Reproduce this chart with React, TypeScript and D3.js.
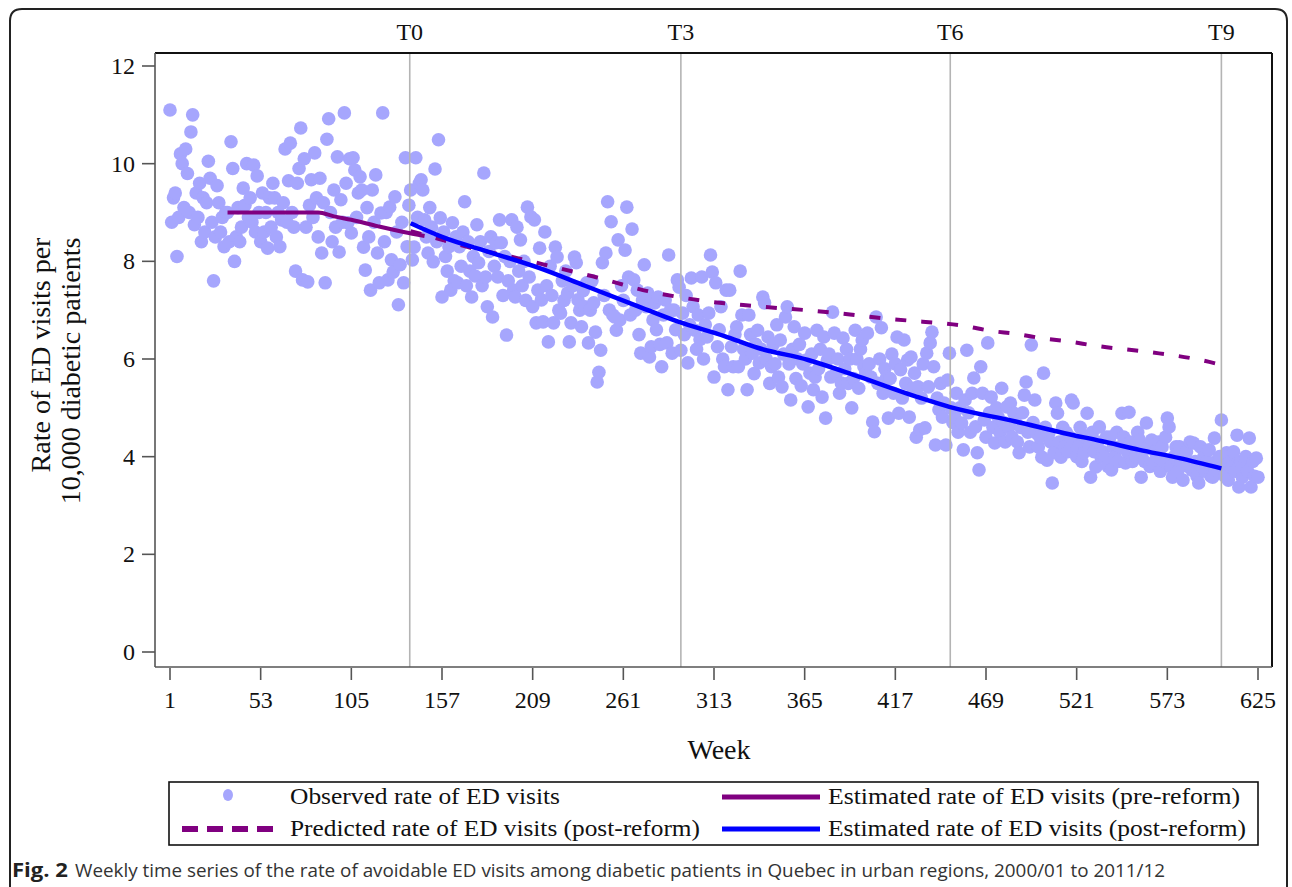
import React from "react";
import * as d3 from "d3";

// Observed weekly rate (week = index + 1)
const observed: number[] = [
  11.1, 8.8, 9.3, 9.4, 8.1, 8.9, 10.2, 10.0, 9.1, 10.3, 9.8, 9.0, 10.65, 11.0, 8.75, 9.4, 8.9, 9.6, 8.4, 9.3, 8.6, 9.2, 10.05, 9.7, 8.8, 7.6,
  8.5, 9.55, 9.2, 8.6, 8.9, 8.3, 9.0, 9.0, 8.4, 10.45, 9.9, 8.0, 8.5, 9.1, 8.4, 8.7, 9.5, 9.15, 10.0, 8.9, 9.3, 8.8, 9.97, 8.6, 9.75, 9.0,
  8.4, 9.4, 8.6, 9.0, 8.27, 9.3, 8.7, 9.6, 9.3, 8.5, 9.0, 8.3, 8.85, 9.2, 10.3, 8.8, 9.65, 10.42, 9.0, 8.7, 7.8, 9.6, 9.9, 10.73, 7.62, 10.1,
  8.7, 7.58, 9.15, 9.67, 8.9, 10.22, 9.3, 8.5, 9.7, 8.17, 9.2, 7.56, 10.5, 10.92, 9.0, 8.4, 9.46, 8.7, 10.14, 8.19, 9.26, 8.8, 11.04, 9.6, 8.79, 10.1,
  8.58, 10.12, 9.87, 8.9, 9.4, 9.73, 9.46, 8.29, 7.82, 9.1, 8.5, 7.41, 9.46, 8.8, 9.77, 8.17, 7.56, 8.99, 11.04, 8.4, 9.0, 7.62, 9.11, 8.03, 7.78, 9.32,
  8.6, 7.11, 7.93, 8.8, 7.56, 10.12, 8.3, 9.15, 9.46, 8.03, 8.29, 10.12, 8.9, 9.6, 9.67, 9.46, 8.85, 8.5, 8.17, 9.1, 8.7, 7.99, 9.89, 8.4, 10.49, 8.89,
  7.27, 8.6, 8.1, 7.8, 8.3, 7.41, 8.79, 7.6, 8.5, 7.56, 8.3, 7.9, 8.6, 9.22, 7.5, 8.4, 7.8, 7.27, 8.1, 7.7, 8.75, 7.97, 8.4, 7.5, 9.81, 7.68,
  7.07, 8.2, 8.5, 6.86, 7.9, 8.38, 7.68, 8.85, 8.38, 7.3, 8.1, 6.49, 7.6, 8.0, 8.85, 7.41, 7.27, 8.7, 7.8, 8.44, 7.5, 8.0, 7.2, 9.11, 7.68, 8.91,
  7.07, 8.85, 6.74, 7.41, 8.27, 7.21, 6.76, 8.6, 7.5, 6.35, 7.9, 7.3, 6.74, 8.29, 8.09, 7.0, 6.94, 7.6, 7.2, 7.8, 7.35, 6.35, 6.74, 7.5, 8.09, 7.97,
  7.21, 7.0, 6.66, 7.4, 7.07, 7.56, 6.33, 7.0, 7.6, 7.15, 6.55, 5.53, 5.73, 6.18, 7.97, 7.3, 8.17, 9.22, 7.0, 8.81, 6.9, 6.86, 6.59, 8.44, 6.8, 7.5,
  7.2, 8.23, 9.11, 7.68, 6.9, 8.66, 7.62, 7.0, 7.41, 6.5, 6.12, 7.2, 7.93, 7.07, 7.35, 6.04, 6.25, 6.8, 7.15, 6.6, 7.27, 6.3, 5.84, 6.9, 7.21, 6.33,
  8.13, 7.0, 6.12, 7.0, 6.6, 7.62, 7.47, 6.18, 6.94, 6.5, 7.3, 5.92, 6.7, 7.66, 7.07, 6.59, 6.2, 6.9, 6.4, 7.68, 6.0, 6.7, 6.45, 6.94, 8.13, 7.78,
  5.63, 7.56, 6.25, 6.6, 7.07, 6.0, 5.84, 7.41, 5.37, 7.41, 6.25, 5.84, 6.5, 6.66, 5.84, 7.8, 6.9, 6.2, 6.0, 5.37, 6.9, 6.5, 6.12, 5.7, 6.3, 6.59,
  5.92, 6.2, 7.27, 7.15, 6.0, 6.45, 5.5, 5.84, 6.3, 5.9, 6.7, 5.63, 6.39, 5.43, 6.1, 6.86, 7.07, 5.9, 5.16, 6.2, 6.66, 5.6, 6.0, 6.3, 5.45, 5.9,
  6.53, 5.98, 5.02, 5.71, 6.1, 5.37, 5.63, 6.59, 5.8, 6.2, 5.22, 6.45, 4.79, 5.98, 6.1, 5.63, 6.96, 6.53, 5.7, 6.0, 5.3, 5.51, 6.43, 5.8, 6.2, 5.5,
  6.0, 5.0, 5.6, 6.59, 6.0, 5.4, 6.2, 6.39, 5.84, 5.71, 6.53, 5.9, 5.63, 4.71, 4.51, 6.86, 5.5, 6.0, 6.64, 5.3, 5.8, 5.63, 4.79, 5.6, 6.1, 5.3,
  5.9, 6.45, 4.89, 5.78, 5.2, 6.39, 5.5, 5.98, 4.81, 6.04, 5.4, 5.71, 4.4, 5.43, 4.55, 5.2, 5.9, 4.59, 6.12, 5.43, 6.33, 6.55, 5.84, 4.24, 5.2, 4.96,
  5.5, 4.81, 5.1, 4.24, 5.57, 6.12, 5.0, 4.7, 4.81, 5.3, 4.5, 5.0, 4.69, 4.14, 5.16, 6.18, 4.9, 4.5, 5.3, 5.61, 4.61, 4.08, 3.73, 5.84, 5.3, 4.75,
  4.4, 6.33, 4.9, 5.22, 4.6, 4.28, 5.0, 4.81, 4.5, 5.4, 4.7, 4.3, 5.02, 4.6, 5.1, 4.4, 4.89, 4.7, 4.3, 4.08, 4.6, 4.9, 5.26, 5.53, 4.5, 4.2,
  6.29, 4.7, 5.16, 4.48, 4.2, 4.4, 3.99, 5.71, 4.6, 3.93, 4.48, 4.3, 3.46, 4.08, 5.1, 4.89, 4.3, 3.99, 4.6, 4.2, 4.5, 4.1, 4.4, 5.16, 5.1, 4.3,
  4.0, 4.2, 4.6, 3.9, 4.08, 4.4, 4.89, 4.2, 3.58, 4.5, 4.1, 3.79, 4.3, 4.61, 3.99, 4.1, 3.99, 4.4, 3.8, 4.4, 3.73, 4.2, 4.0, 4.5, 3.9, 4.2,
  4.89, 4.4, 3.87, 4.1, 4.91, 4.3, 3.9, 4.2, 4.0, 4.5, 4.34, 3.58, 4.1, 3.9, 4.69, 4.2, 3.8, 4.34, 3.87, 4.1, 4.0, 4.3, 3.7, 4.2, 3.9, 4.4,
  4.79, 4.61, 3.79, 3.58, 4.0, 4.2, 3.7, 4.2, 3.9, 3.52, 4.0, 4.1, 3.8, 4.3, 3.73, 4.28, 3.9, 3.6, 3.46, 4.2, 3.8, 4.0, 3.7, 3.9, 4.14, 3.6,
  3.58, 4.38, 3.9, 3.7, 4.0, 4.75, 3.8, 3.6, 4.08, 3.52, 3.9, 3.79, 4.1, 3.7, 4.44, 3.38, 3.9, 3.58, 3.8, 4.0, 3.7, 4.38, 3.38, 3.9, 3.6, 3.97, 3.58,
];

const xTickValues = [1, 53, 105, 157, 209, 261, 313, 365, 417, 469, 521, 573, 625];
const yTickValues = [0, 2, 4, 6, 8, 10, 12];
const periodWeeks = [138.5, 294, 448.5, 604];
const periodLabels = ["T0", "T3", "T6", "T9"];

const preWeeks = [34, 60, 86, 95, 105, 120, 135, 147];
const preValues = [9.0, 9.0, 9.0, 8.92, 8.85, 8.72, 8.6, 8.52];

const predWeeks = [139, 157, 172, 202, 216, 232, 246, 260, 275, 291, 305, 319, 335, 351, 366, 381, 396, 411, 427, 441, 456, 471, 487, 502, 516, 532, 563, 592, 604];
const predValues = [8.62, 8.44, 8.29, 8.05, 7.93, 7.79, 7.67, 7.53, 7.39, 7.28, 7.2, 7.14, 7.09, 7.04, 7.0, 6.95, 6.89, 6.83, 6.78, 6.74, 6.68, 6.58, 6.51, 6.42, 6.36, 6.27, 6.14, 5.98, 5.88];

const postWeeks = [139, 157, 186, 213, 239, 268, 292, 319, 338, 367, 396, 429, 448, 486, 514, 535, 557, 580, 604];
const postValues = [8.78, 8.5, 8.17, 7.86, 7.5, 7.1, 6.77, 6.47, 6.23, 5.98, 5.64, 5.23, 5.02, 4.72, 4.48, 4.32, 4.14, 3.97, 3.76];

const legendLabels = [
  "Observed rate of ED visits",
  "Estimated rate of ED visits (pre-reform)",
  "Predicted rate of ED visits (post-reform)",
  "Estimated rate of ED visits (post-reform)",
];

const SERIF = "'Liberation Serif', 'Times New Roman', serif";
const SANS = "'Open Sans', 'Liberation Sans', sans-serif";
const DOT = "#a6a6fd";
const PURPLE = "#800080";
const BLUE = "#0000ff";

export default function App() {
  const x = d3.scaleLinear().domain([1, 625]).range([170, 1258]);
  const y = d3.scaleLinear().domain([0, 12]).range([652, 66]);
  const plot = { left: 155, right: 1272, top: 53, bottom: 667 };

  const line = d3
    .line<[number, number]>()
    .x((d) => x(d[0]))
    .y((d) => y(d[1]))
    .curve(d3.curveMonotoneX);

  const pre = line(preWeeks.map((w, i) => [w, preValues[i]] as [number, number])) || "";
  const pred = line(predWeeks.map((w, i) => [w, predValues[i]] as [number, number])) || "";
  const post = line(postWeeks.map((w, i) => [w, postValues[i]] as [number, number])) || "";

  return (
    <svg
      width={1292}
      height={887}
      style={{ position: "absolute", left: 0, top: 0, background: "#fff" }}
    >
      {/* outer rounded frame */}
      <path
        d="M10,900 V21 Q10,9 22,9 H1275 Q1287,9 1287,21 V900"
        fill="none"
        stroke="#222"
        strokeWidth={2}
      />

      {/* observed points */}
      <g>
        {observed.map((v, i) => (
          <circle key={i} cx={x(i + 1)} cy={y(v)} r={6.8} fill={DOT} />
        ))}
      </g>

      {/* period reference lines */}
      {periodWeeks.map((w, i) => (
        <g key={periodLabels[i]}>
          <line x1={x(w)} x2={x(w)} y1={plot.top} y2={plot.bottom} stroke="#b4b4b4" strokeWidth={1.6} />
          <text
            x={x(w)}
            y={40}
            textAnchor="middle"
            fontFamily={SERIF}
            fontSize={24}
            fill="#111"
          >
            {periodLabels[i]}
          </text>
        </g>
      ))}

      {/* estimated / predicted lines */}
      <path d={pre} fill="none" stroke={PURPLE} strokeWidth={4} />
      <path d={pred} fill="none" stroke={PURPLE} strokeWidth={4} strokeDasharray="11,15" />
      <path d={post} fill="none" stroke={BLUE} strokeWidth={4.5} />

      {/* frame */}
      <line x1={plot.left} x2={plot.right} y1={plot.top} y2={plot.top} stroke="#111" strokeWidth={2} />
      <line x1={plot.right} x2={plot.right} y1={plot.top} y2={plot.bottom} stroke="#111" strokeWidth={2} />
      <line x1={plot.left} x2={plot.left} y1={plot.top} y2={plot.bottom} stroke="#555" strokeWidth={1.6} />
      <line x1={plot.left} x2={plot.right} y1={plot.bottom} y2={plot.bottom} stroke="#555" strokeWidth={1.6} />

      {/* y axis */}
      {yTickValues.map((t) => (
        <g key={"y" + t}>
          <line x1={142} x2={plot.left} y1={y(t)} y2={y(t)} stroke="#555" strokeWidth={1.6} />
          <text
            x={135}
            y={y(t) + 8}
            textAnchor="end"
            fontFamily={SERIF}
            fontSize={24}
            fill="#111"
          >
            {t}
          </text>
        </g>
      ))}

      {/* x axis */}
      {xTickValues.map((t) => (
        <g key={"x" + t}>
          <line x1={x(t)} x2={x(t)} y1={plot.bottom + 1} y2={plot.bottom + 13} stroke="#555" strokeWidth={1.6} />
          <text
            x={x(t)}
            y={708}
            textAnchor="middle"
            fontFamily={SERIF}
            fontSize={24}
            fill="#111"
          >
            {t}
          </text>
        </g>
      ))}

      <text x={719} y={759} textAnchor="middle" fontFamily={SERIF} fontSize={28} fill="#111">
        Week
      </text>
      <text
        transform="translate(50,355) rotate(-90)"
        textAnchor="middle"
        fontFamily={SERIF}
        fontSize={28}
        fill="#111"
      >
        Rate of ED visits per
      </text>
      <text
        transform="translate(80,371) rotate(-90)"
        textAnchor="middle"
        fontFamily={SERIF}
        fontSize={28}
        fill="#111"
      >
        10,000 diabetic patients
      </text>

      {/* legend */}
      <rect x={169} y={782} width={1089} height={63} fill="#fff" stroke="#111" strokeWidth={1.6} />
      <ellipse cx={228} cy={795} rx={5} ry={6} fill={DOT} />
      <text x={290} y={804} fontFamily={SERIF} fontSize={24} textLength={270} lengthAdjust="spacingAndGlyphs" fill="#111">
        {legendLabels[0]}
      </text>
      <line x1={722} x2={820} y1={797} y2={797} stroke={PURPLE} strokeWidth={5} />
      <text x={828} y={804} fontFamily={SERIF} fontSize={24} textLength={412} lengthAdjust="spacingAndGlyphs" fill="#111">
        {legendLabels[1]}
      </text>
      <line x1={182} x2={275} y1={829} y2={829} stroke={PURPLE} strokeWidth={6} strokeDasharray="16,9" />
      <text x={290} y={836} fontFamily={SERIF} fontSize={24} textLength={410} lengthAdjust="spacingAndGlyphs" fill="#111">
        {legendLabels[2]}
      </text>
      <line x1={722} x2={820} y1={829} y2={829} stroke={BLUE} strokeWidth={5} />
      <text x={828} y={836} fontFamily={SERIF} fontSize={24} textLength={418} lengthAdjust="spacingAndGlyphs" fill="#111">
        {legendLabels[3]}
      </text>

      {/* caption */}
      <text x={12} y={877} fontFamily={SANS} fontSize={20} fontWeight="bold" textLength={56} lengthAdjust="spacingAndGlyphs" fill="#222">
        Fig. 2
      </text>
      <text x={75} y={877} fontFamily={SANS} fontSize={19} textLength={1090} lengthAdjust="spacingAndGlyphs" fill="#333">
        Weekly time series of the rate of avoidable ED visits among diabetic patients in Quebec in urban regions, 2000/01 to 2011/12
      </text>
    </svg>
  );
}
